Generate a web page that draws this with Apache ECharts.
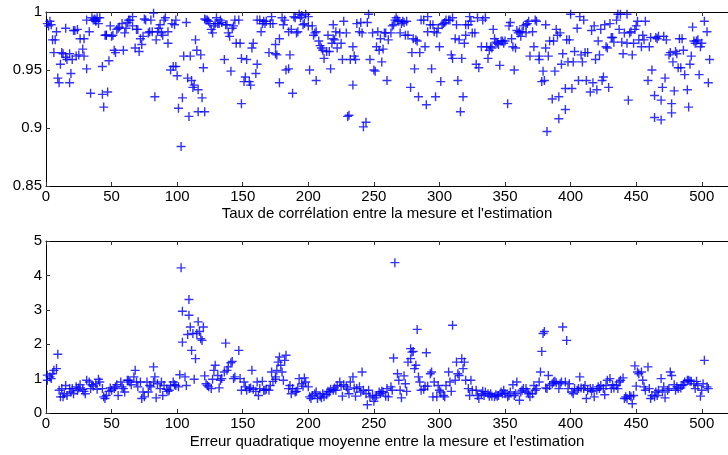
<!DOCTYPE html>
<html>
<head>
<meta charset="utf-8">
<script src="https://cdn.jsdelivr.net/npm/echarts@6/dist/echarts.min.js"></script>
<style>
  html, body { margin: 0; padding: 0; background: #fff; }
  #chart { width: 728px; height: 455px; }
</style>
</head>
<body>
<div id="chart"></div>
<script>
// x ticks (shared by both plots)
var xTicks = [0, 50, 100, 150, 200, 250, 300, 350, 400, 450, 500];
var corrTicks = [0.85, 0.9, 0.95, 1];
var errTicks = [0, 1, 2, 3, 4, 5];

var corrTitle = "Taux de corrélation entre la mesure et l'estimation";
var errTitle = "Erreur quadratique moyenne entre la mesure et l'estimation";

// [index, correlation]
var correlation = [
  [1,0.990],[2,0.988],[3,0.992],[4,0.989],[5,0.976],[6,0.965],[7,0.976],[8,0.983],[9,0.943],[10,0.939],
  [11,0.955],[12,0.965],[13,0.964],[15,0.986],[15,0.961],[16,0.959],[18,0.964],[18,0.939],[19,0.947],[20,0.959],
  [21,0.984],[22,0.984],[23,0.962],[24,0.985],[25,0.963],[26,0.977],[28,0.968],[29,0.977],[29,0.962],[31,0.951],
  [31,0.993],[33,0.983],[34,0.930],[35,0.995],[36,0.993],[37,0.994],[38,0.993],[38,0.992],[39,0.995],[40,0.990],
  [41,0.995],[43,0.953],[43,0.929],[44,0.918],[45,0.980],[46,0.980],[46,0.980],[47,0.931],[48,0.958],[49,0.988],
  [50,0.979],[51,0.980],[52,0.967],[53,0.965],[54,0.985],[55,0.986],[56,0.987],[58,0.990],[59,0.967],[60,0.982],
  [61,0.986],[62,0.991],[63,0.993],[64,0.993],[66,0.996],[66,0.988],[68,0.969],[69,0.985],[70,0.985],[71,0.966],
  [72,0.977],[73,0.972],[74,0.979],[75,0.994],[76,0.993],[78,0.982],[79,0.983],[80,0.993],[81,0.983],[82,0.999],
  [83,0.927],[84,0.976],[85,0.983],[86,0.986],[87,0.989],[88,0.982],[89,0.980],[90,0.993],[91,0.995],[93,0.983],
  [93,0.973],[95,0.950],[96,0.990],[97,0.953],[98,0.989],[99,0.993],[99,0.953],[100,0.945],[101,0.917],[103,0.884],
  [104,0.926],[105,0.962],[107,0.991],[108,0.943],[109,0.910],[110,0.962],[111,0.941],[112,0.935],[113,0.937],[114,0.976],
  [115,0.967],[116,0.933],[116,0.914],[118,0.963],[119,0.926],[120,0.952],[121,0.914],[121,0.994],[122,0.993],[123,0.993],
  [124,0.992],[125,0.990],[126,0.985],[127,0.982],[128,0.988],[129,0.990],[130,0.995],[131,0.990],[132,0.990],[133,0.993],
  [134,0.991],[136,0.959],[137,0.989],[138,0.989],[139,0.982],[140,0.979],[141,0.949],[142,0.986],[143,0.988],[144,0.993],
  [145,0.973],[147,0.993],[148,0.973],[149,0.960],[149,0.921],[151,0.940],[152,0.944],[153,0.959],[155,0.940],[156,0.937],
  [157,0.969],[158,0.973],[160,0.947],[161,0.955],[161,0.993],[163,0.993],[164,0.983],[165,0.990],[166,0.992],[167,0.990],
  [168,0.992],[170,0.965],[171,0.990],[172,0.996],[173,0.990],[175,0.972],[175,0.964],[176,0.963],[178,0.939],[178,0.977],
  [180,0.995],[181,0.989],[182,0.993],[183,0.950],[185,0.951],[185,0.983],[186,0.963],[187,0.985],[188,0.930],[189,0.996],
  [190,0.995],[191,0.982],[192,0.983],[193,0.998],[194,0.995],[195,0.997],[196,0.989],[197,0.990],[198,0.998],[200,0.996],
  [200,0.988],[201,0.950],[203,0.988],[204,0.980],[205,0.982],[206,0.941],[206,0.983],[208,0.975],[209,0.971],[210,0.969],
  [211,0.967],[212,0.960],[214,0.966],[215,0.980],[216,0.966],[217,0.951],[218,0.973],[219,0.977],[219,0.989],[220,0.976],
  [221,0.983],[222,0.969],[224,0.982],[225,0.973],[226,0.959],[227,0.992],[229,0.982],[230,0.910],[231,0.911],[232,0.959],
  [234,0.970],[234,0.937],[235,0.962],[236,0.959],[237,0.990],[239,0.983],[240,0.991],[241,0.982],[242,0.901],[244,0.905],
  [245,0.991],[246,0.998],[247,0.959],[249,0.982],[250,0.950],[251,0.949],[252,0.970],[253,0.983],[254,0.967],[255,0.977],
  [256,0.957],[257,0.968],[258,0.982],[259,0.982],[260,0.941],[261,0.976],[263,0.982],[264,0.988],[265,0.989],[266,0.993],
  [267,0.995],[268,0.993],[269,0.992],[270,0.982],[271,0.990],[272,0.992],[273,0.991],[274,0.980],[275,0.992],[276,0.980],
  [278,0.935],[279,0.965],[280,0.977],[281,0.951],[282,0.976],[283,0.975],[284,0.927],[285,0.965],[286,0.993],[288,0.993],
  [289,0.970],[290,0.920],[291,0.983],[291,0.996],[293,0.989],[294,0.951],[295,0.989],[296,0.983],[297,0.927],[298,0.982],
  [299,0.986],[300,0.970],[301,0.940],[302,0.989],[303,0.990],[304,0.991],[305,0.993],[307,0.993],[308,0.993],[309,0.963],
  [310,0.995],[310,0.960],[312,0.977],[313,0.989],[314,0.941],[315,0.976],[316,0.914],[317,0.960],[318,0.927],[319,0.973],
  [320,0.980],[320,0.989],[322,0.989],[323,0.996],[324,0.992],[325,0.982],[327,0.982],[328,0.955],[329,0.995],[330,0.952],
  [332,0.970],[333,0.993],[335,0.995],[336,0.970],[337,0.960],[338,0.967],[339,0.970],[340,0.969],[341,0.985],[342,0.977],
  [343,0.974],[344,0.973],[345,0.972],[346,0.954],[347,0.975],[348,0.975],[349,0.973],[350,0.975],[352,0.921],[353,0.988],
  [354,0.991],[355,0.977],[356,0.970],[357,0.950],[358,0.969],[359,0.984],[360,0.982],[361,0.983],[362,0.979],[363,0.983],
  [364,0.988],[366,0.982],[366,0.989],[367,0.990],[368,0.992],[369,0.962],[371,0.983],[372,0.970],[373,0.993],[374,0.992],
  [376,0.962],[376,0.959],[378,0.940],[379,0.949],[380,0.941],[381,0.969],[381,0.989],[382,0.897],[383,0.962],[384,0.975],
  [386,0.925],[387,0.975],[388,0.949],[389,0.985],[390,0.980],[391,0.927],[391,0.908],[392,0.982],[393,0.955],[394,0.964],
  [396,0.934],[396,0.916],[397,0.976],[398,0.957],[399,0.976],[400,0.998],[401,0.934],[402,0.957],[403,0.966],[405,0.986],
  [406,0.941],[407,0.996],[408,0.963],[409,0.957],[410,0.993],[411,0.965],[412,0.941],[413,0.965],[415,0.931],[416,0.984],
  [417,0.939],[418,0.988],[419,0.959],[420,0.933],[421,0.975],[422,0.963],[423,0.985],[424,0.941],[425,0.944],[426,0.989],
  [427,0.970],[428,0.969],[429,0.935],[430,0.990],[431,0.978],[432,0.978],[433,0.974],[435,0.993],[436,0.998],[437,0.985],
  [438,0.998],[439,0.974],[440,0.964],[441,0.982],[443,0.998],[443,0.973],[444,0.924],[445,0.982],[446,0.983],[447,0.963],
  [448,0.973],[449,0.985],[450,0.988],[451,0.992],[452,0.976],[454,0.970],[455,0.980],[456,0.976],[457,0.992],[459,0.941],
  [460,0.970],[461,0.978],[462,0.950],[464,0.928],[464,0.909],[465,0.978],[466,0.977],[467,0.979],[469,0.924],[469,0.907],
  [470,0.935],[471,0.979],[472,0.943],[473,0.976],[475,0.963],[476,0.965],[477,0.913],[477,0.921],[478,0.957],[479,0.932],
  [480,0.966],[481,0.964],[482,0.952],[483,0.977],[484,0.952],[485,0.977],[486,0.967],[487,0.946],[489,0.933],[490,0.918],
  [491,0.955],[492,0.962],[493,0.987],[494,0.975],[495,0.973],[496,0.975],[497,0.976],[498,0.946],[499,0.970],[500,0.973],
  [502,0.992],[504,0.983],[505,0.939],[506,0.959]
];

// [index, mean squared error]
var meanError = [
  [1,1.10],[1,0.95],[3,1.05],[4,1.00],[5,1.14],[6,1.24],[8,1.29],[9,1.71],[10,0.66],[11,0.47],
  [12,0.71],[13,0.47],[14,0.56],[15,0.80],[16,0.51],[18,0.71],[19,0.61],[20,0.71],[21,0.56],[23,0.76],
  [24,0.66],[25,0.73],[26,0.82],[28,0.69],[29,0.63],[30,0.56],[31,0.95],[33,0.90],[34,0.71],[35,0.82],
  [36,0.78],[38,0.85],[39,0.69],[40,0.98],[41,0.90],[43,0.71],[44,0.47],[45,0.42],[46,0.51],[48,0.63],
  [49,0.73],[50,0.66],[52,0.71],[53,0.76],[54,0.82],[55,0.51],[57,0.90],[58,0.76],[59,0.71],[60,0.61],
  [62,0.95],[63,0.95],[64,0.90],[65,0.82],[67,1.05],[68,1.24],[69,0.90],[70,0.76],[72,0.90],[73,0.42],
  [74,0.61],[75,0.47],[77,0.90],[78,0.61],[79,0.80],[80,0.76],[82,0.90],[82,1.34],[83,1.05],[84,0.44],
  [85,0.85],[87,0.71],[88,0.90],[89,0.51],[90,0.80],[92,0.69],[93,0.63],[94,0.66],[95,0.80],[97,0.90],
  [98,0.82],[99,0.80],[101,0.76],[102,1.11],[103,4.22],[104,2.96],[104,2.06],[106,1.05],[107,0.80],[108,2.28],
  [109,3.30],[109,2.84],[110,2.50],[111,1.82],[112,2.31],[113,0.98],[114,1.58],[115,2.31],[116,2.65],[117,2.37],
  [118,2.16],[119,2.11],[120,2.50],[121,1.08],[122,0.85],[123,0.80],[124,0.76],[126,0.71],[127,0.98],[128,1.24],
  [129,1.39],[131,1.09],[132,0.73],[133,0.95],[134,1.00],[136,1.19],[137,2.03],[138,1.24],[139,1.34],[141,1.46],
  [142,1.50],[143,1.00],[144,1.05],[147,1.82],[148,1.00],[149,0.66],[151,0.90],[152,0.76],[153,0.66],[155,0.71],
  [156,0.73],[157,1.24],[158,0.69],[160,0.63],[161,0.90],[162,0.51],[163,0.71],[165,0.92],[166,0.66],[167,0.66],
  [168,0.69],[170,0.66],[171,0.80],[172,1.19],[173,0.92],[175,0.98],[175,1.05],[176,1.24],[177,1.48],[178,1.63],
  [179,1.39],[180,1.19],[181,0.95],[182,1.53],[183,1.68],[185,0.71],[186,0.80],[187,0.56],[188,0.71],[190,0.61],
  [191,0.63],[192,0.71],[193,1.00],[195,0.85],[196,0.78],[197,1.02],[198,0.90],[200,0.76],[201,0.47],[202,0.42],
  [203,0.51],[205,0.56],[206,0.61],[207,0.42],[209,0.49],[210,0.44],[211,0.56],[212,0.47],[214,0.53],[215,0.63],
  [216,0.61],[217,0.69],[219,0.66],[220,0.73],[221,0.66],[222,0.80],[224,0.90],[225,0.78],[226,0.49],[227,0.82],
  [229,0.76],[230,0.69],[231,0.56],[232,0.90],[234,1.05],[235,0.73],[236,0.49],[237,0.71],[239,0.76],[240,0.61],
  [241,1.19],[242,0.66],[244,0.56],[245,0.24],[246,0.66],[247,0.47],[249,0.51],[250,0.34],[251,0.44],[252,0.51],
  [254,0.61],[255,0.56],[256,0.63],[257,0.61],[259,0.49],[260,0.71],[261,0.47],[263,0.76],[264,0.66],[265,1.60],
  [266,4.37],[268,1.14],[269,0.95],[270,0.66],[271,0.44],[273,1.08],[274,0.85],[275,0.63],[276,1.48],[278,1.87],
  [278,1.58],[279,1.77],[280,1.79],[281,1.29],[282,1.39],[283,2.43],[284,1.05],[285,0.90],[286,0.66],[288,0.69],
  [289,0.78],[290,1.75],[291,0.78],[293,1.14],[294,1.19],[295,0.47],[296,0.90],[298,0.47],[299,0.80],[300,0.66],
  [301,0.61],[303,0.51],[304,0.47],[305,0.80],[307,1.19],[308,0.90],[309,0.63],[310,2.55],[312,0.95],[313,1.48],
  [314,1.14],[315,1.09],[317,1.58],[318,1.29],[319,1.48],[320,0.95],[322,0.71],[323,0.51],[324,0.95],[325,0.66],
  [328,0.66],[329,0.51],[330,0.42],[332,0.56],[333,0.63],[334,0.51],[335,0.61],[337,0.56],[338,0.49],[339,0.56],
  [340,0.49],[342,0.47],[343,0.53],[344,0.49],[345,0.51],[347,0.61],[348,0.56],[349,0.66],[350,0.56],[352,0.47],
  [353,0.51],[354,0.61],[356,0.82],[357,0.51],[358,0.56],[359,0.90],[361,0.37],[362,0.61],[363,0.66],[364,0.71],
  [366,0.71],[367,0.61],[368,0.56],[369,0.47],[371,0.56],[372,0.80],[373,0.66],[374,0.71],[376,0.90],[377,1.19],
  [378,1.79],[379,2.31],[380,2.37],[381,0.73],[382,0.71],[383,1.09],[384,0.80],[386,0.85],[387,0.90],[388,0.92],
  [389,0.88],[391,0.71],[392,0.85],[393,0.90],[394,2.50],[396,0.90],[397,2.11],[398,0.71],[399,0.85],[401,0.61],
  [402,0.56],[403,0.71],[405,0.66],[406,0.71],[407,1.05],[408,0.73],[410,0.71],[411,0.80],[412,0.42],[413,0.66],
  [415,0.71],[416,0.63],[417,0.71],[418,0.47],[420,0.66],[421,0.76],[422,0.71],[423,0.80],[425,0.71],[426,0.53],
  [427,0.80],[428,0.95],[430,1.00],[431,0.71],[432,0.82],[433,0.73],[435,0.80],[436,0.71],[437,0.90],[438,0.95],
  [440,1.02],[441,0.42],[442,0.47],[443,0.42],[445,0.51],[446,0.47],[447,0.27],[448,0.51],[449,1.37],[450,0.78],
  [451,1.19],[452,1.14],[454,1.19],[455,0.95],[456,0.76],[457,0.66],[459,1.34],[460,0.71],[461,0.42],[462,0.51],
  [464,0.47],[465,0.61],[466,0.51],[467,0.66],[469,1.00],[470,0.61],[471,0.76],[472,0.44],[474,0.66],[475,0.71],
  [476,1.19],[477,1.09],[479,0.82],[480,0.66],[481,0.76],[482,0.71],[484,0.73],[485,0.80],[486,0.82],[487,0.90],
  [489,0.95],[490,0.95],[491,0.92],[492,0.92],[494,0.85],[495,0.71],[496,0.92],[497,0.80],[499,0.49],[500,0.66],
  [501,0.85],[502,1.53],[504,0.76],[505,0.71]
];

var FONT = 'Liberation Sans';
// plus sign, bars a bit thicker than one pixel
var plus = 'path://M3.8,0H5.2V3.8H9V5.2H5.2V9H3.8V5.2H0V3.8H3.8Z';

function xBottom(gridIndex, title, gap) {
  return {
    type: 'value', gridIndex: gridIndex, position: 'bottom',
    min: 0, max: 520, interval: 50,
    name: title, nameLocation: 'middle', nameGap: gap,
    nameTextStyle: { fontFamily: FONT, fontSize: 15, color: '#000' },
    axisLine: { show: true, onZero: false, lineStyle: { color: '#000', width: 1 } },
    axisTick: { show: true, inside: true, length: 4, lineStyle: { color: '#333' } },
    axisLabel: { show: true, margin: 3, fontFamily: FONT, fontSize: 15, color: '#000',
      showMaxLabel: false,
      formatter: function (v) { return xTicks.indexOf(v) >= 0 ? String(v) : ''; } },
    splitLine: { show: false }
  };
}
function xTop(gridIndex) {
  return {
    type: 'value', gridIndex: gridIndex, position: 'top',
    min: 0, max: 520, interval: 50,
    axisLine: { show: true, onZero: false, lineStyle: { color: '#000', width: 1 } },
    axisTick: { show: true, inside: true, length: 4, lineStyle: { color: '#333' } },
    axisLabel: { show: false },
    splitLine: { show: false }
  };
}
function yLeft(gridIndex, ticks) {
  return {
    type: 'value', gridIndex: gridIndex, position: 'left',
    min: ticks[0], max: ticks[ticks.length - 1],
    interval: ticks[1] - ticks[0],
    axisLine: { show: true, onZero: false, lineStyle: { color: '#000', width: 1 } },
    axisTick: { show: true, inside: true, length: 4, lineStyle: { color: '#333' } },
    axisLabel: { show: true, margin: 4, fontFamily: FONT, fontSize: 15, color: '#000',
      formatter: function (v) { return String(+v.toFixed(2)); } },
    splitLine: { show: false }
  };
}

var chart = echarts.init(document.getElementById('chart'), null, { renderer: 'canvas' });
chart.setOption({
  animation: false,
  backgroundColor: '#fff',
  grid: [
    { left: 46, top: 12, width: 690, height: 174 },
    { left: 46, top: 241, width: 690, height: 172 }
  ],
  xAxis: [xBottom(0, corrTitle, 20), xTop(0), xBottom(1, errTitle, 21), xTop(1)],
  yAxis: [yLeft(0, corrTicks), yLeft(1, errTicks)],
  series: [
    {
      type: 'scatter', xAxisIndex: 0, yAxisIndex: 0,
      data: correlation, symbol: plus, symbolSize: 9,
      itemStyle: { color: '#0000ff' }, silent: true
    },
    {
      type: 'scatter', xAxisIndex: 2, yAxisIndex: 1,
      data: meanError, symbol: plus, symbolSize: 9,
      itemStyle: { color: '#0000ff' }, silent: true
    }
  ]
});
</script>
</body>
</html>
